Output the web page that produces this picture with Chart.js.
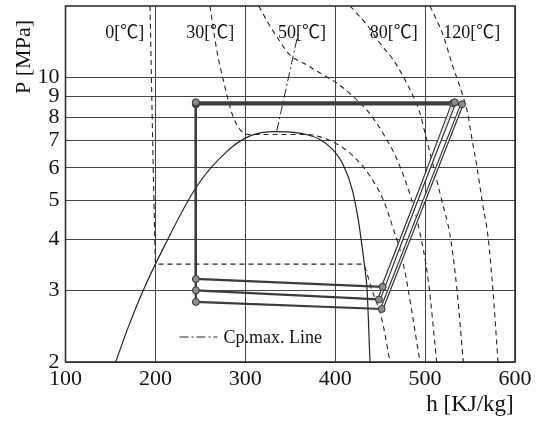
<!DOCTYPE html>
<html>
<head>
<meta charset="utf-8">
<script src="https://cdn.jsdelivr.net/npm/chart.js@4"></script>
<style>
  html, body { margin: 0; padding: 0; background: #fff; }
</style>
</head>
<body>
<canvas id="phChart" width="538" height="421"></canvas>
<script>
// axis ticks
let xTicks = [100, 200, 300, 400, 500, 600];
let yTicks = [2, 3, 4, 5, 6, 7, 8, 9, 10];

// saturation dome (h kJ/kg, P MPa)
let domeH = [155.8, 169.9, 186.5, 208.8, 245.9, 279.3, 305.2, 333, 350, 368, 383, 396, 409, 419, 425.7, 429.5, 433, 435.5, 438.7];
let domeP = [2.0, 2.44, 3.0, 3.81, 5.4, 6.58, 7.19, 7.37, 7.35, 7.25, 7.05, 6.7, 6.1, 5.3, 4.47, 3.9, 3.4, 3.0, 2.0];

// isotherms
let t0H = [194, 198.4, 200.3, 430, 441, 452, 461];
let t0P = [15, 5, 3.48, 3.48, 3.0, 2.54, 2.0];
let t30H = [260.7, 268.2, 275.5, 286.6, 303, 366, 385.3, 405.3, 422, 438.7, 453.5, 464.3, 475.4, 494.4];
let t30P = [15, 11.7, 9.87, 8.0, 7.25, 7.25, 7.13, 6.8, 6.35, 5.73, 5.0, 4.27, 3.52, 2.0];
let t50H = [315, 325.6, 334.9, 349.7, 368.3, 386.8, 401.7, 420.1, 435, 446.1, 455.4, 468.7, 485.1, 494.3, 503.5, 512.9];
let t50P = [15, 13.61, 12.62, 11.37, 10.75, 10.15, 9.7, 8.98, 8.33, 7.73, 7.16, 6.3, 5.0, 4.15, 3.18, 2.0];
let t80H = [416.5, 435, 449.8, 464.6, 475.7, 485.1, 494.3, 499.9, 508.8, 518.4, 527.7, 535.1, 542.5];
let t80P = [15, 13.5, 12.15, 11.06, 10.06, 9.16, 8.18, 7.31, 6.1, 5.0, 4.1, 3.06, 2.0];
let t120H = [505.4, 519.9, 531.0, 541.0, 547.7, 551.0, 557.7, 563.3, 570.0, 575.5, 581.1];
let t120P = [15, 12.74, 10.63, 9.17, 8.1, 7.31, 6.03, 5.0, 4.06, 3.0, 2.0];

let tempLabels = ['0[℃]', '30[℃]', '50[℃]', '80[℃]', '120[℃]'];

// Cp max line
let cpH = [335, 359];
let cpP = [7.4, 12.9];

// three cycles
let cycHigh = [8.7, 8.65, 8.6];
let cycLeftH = [245, 245, 245];
let cycLowIn = [3.2, 3.0, 2.81];
let cycEvapH = [452.8, 448.7, 451.7];
let cycLowOut = [3.06, 2.85, 2.7];
let cycCompH = [533, 531, 541];

function pts(hs, ps) {
    return hs.map((h, i) => ({ x: h, y: ps[i] }));
}

let serif = '"Liberation Serif", "Noto Sans CJK JP", serif';
let ink = '#222';

let datasets = [];

// cycle polylines with markers (drawn on top)
cycHigh.forEach((p, i) => {
    datasets.push({
        data: pts([cycCompH[i], cycLeftH[i], cycLeftH[i], cycEvapH[i]],
                  [p, p, cycLowIn[i], cycLowOut[i]]),
        borderColor: '#3c3c3c',
        borderWidth: 2.2,
        pointRadius: 3.5,
        pointBackgroundColor: '#8c8c8c',
        pointBorderColor: '#333',
        pointBorderWidth: 1
    });
});
// compressor lines: white core over dark line
cycHigh.forEach((p, i) => {
    datasets.push({
        data: pts([cycEvapH[i], cycCompH[i]], [cycLowOut[i], p]),
        borderColor: '#fff',
        borderWidth: 1.2,
        pointRadius: 0
    });
});
cycHigh.forEach((p, i) => {
    datasets.push({
        data: pts([cycEvapH[i], cycCompH[i]], [cycLowOut[i], p]),
        borderColor: '#333',
        borderWidth: 3.6,
        pointRadius: 0
    });
});

datasets.push({
    data: pts(cpH, cpP),
    borderColor: ink,
    borderWidth: 1,
    borderDash: [9, 3, 2, 3],
    pointRadius: 0
});
datasets.push({
    data: pts(domeH, domeP),
    borderColor: ink,
    borderWidth: 1.2,
    pointRadius: 0,
    cubicInterpolationMode: 'monotone'
});

[[t0H, t0P], [t30H, t30P], [t50H, t50P], [t80H, t80P], [t120H, t120P]].forEach(([hs, ps]) => {
    datasets.push({
        data: pts(hs, ps),
        borderColor: ink,
        borderWidth: 1.1,
        borderDash: [5, 4],
        pointRadius: 0,
        cubicInterpolationMode: 'monotone'
    });
});

let labelAt = [166, 261, 363, 465, 552];

let annotate = {
    id: 'annotate',
    beforeDraw(chart) {
        let ctx = chart.ctx;
        ctx.save();
        ctx.fillStyle = '#fff';
        ctx.fillRect(0, 0, chart.width, chart.height);
        ctx.restore();
    },
    afterDraw(chart) {
        let ctx = chart.ctx;
        let a = chart.chartArea;
        let x = chart.scales.x;
        ctx.save();
        ctx.strokeStyle = ink;
        ctx.lineWidth = 1.5;
        ctx.strokeRect(a.left, a.top, a.right - a.left, a.bottom - a.top);

        ctx.fillStyle = '#111';
        ctx.textBaseline = 'middle';
        ctx.textAlign = 'center';
        ctx.font = '18px ' + serif;
        tempLabels.forEach((t, i) => {
            ctx.fillText(t, x.getPixelForValue(labelAt[i]), a.top + 27);
        });

        // legend
        ctx.beginPath();
        ctx.setLineDash([9, 3, 2, 3]);
        ctx.lineWidth = 1;
        ctx.moveTo(a.left + 114, a.bottom - 25);
        ctx.lineTo(a.left + 152, a.bottom - 25);
        ctx.stroke();
        ctx.setLineDash([]);
        ctx.textAlign = 'left';
        ctx.fillText('Cp.max. Line', a.left + 158, a.bottom - 24);

        // axis titles
        ctx.font = '23px ' + serif;
        ctx.textAlign = 'center';
        ctx.fillText('h [KJ/kg]', 470, 405);
        ctx.translate(24, 57);
        ctx.rotate(-Math.PI / 2);
        ctx.font = '22px ' + serif;
        ctx.fillText('P [MPa]', 0, 0);
        ctx.restore();
    }
};

let chart = new Chart(document.getElementById('phChart').getContext('2d'), {
    type: 'line',
    data: { datasets: datasets },
    options: {
        responsive: false,
        animation: false,
        layout: { padding: { top: 6, right: 23, left: 0, bottom: 0 } },
        plugins: {
            legend: { display: false },
            tooltip: { enabled: false }
        },
        scales: {
            x: {
                type: 'linear',
                min: 100,
                max: 600,
                afterBuildTicks: (s) => { s.ticks = xTicks.map(v => ({ value: v })); },
                afterFit: (s) => { s.height = 59; },
                grid: { color: '#444', lineWidth: 1, drawTicks: false },
                border: { display: false },
                ticks: { color: '#111', padding: 4, font: { family: serif, size: 22 }, maxRotation: 0 }
            },
            y: {
                type: 'logarithmic',
                min: 2,
                max: 15,
                afterBuildTicks: (s) => { s.ticks = yTicks.map(v => ({ value: v })); },
                afterFit: (s) => { s.width = 65.5; s.paddingTop = 0; s.paddingBottom = 0; },
                grid: { color: '#444', lineWidth: 1, drawTicks: false },
                border: { display: false },
                ticks: { color: '#111', padding: 6, font: { family: serif, size: 22 }, callback: (v) => String(v) }
            }
        }
    },
    plugins: [annotate]
});
</script>
</body>
</html>
